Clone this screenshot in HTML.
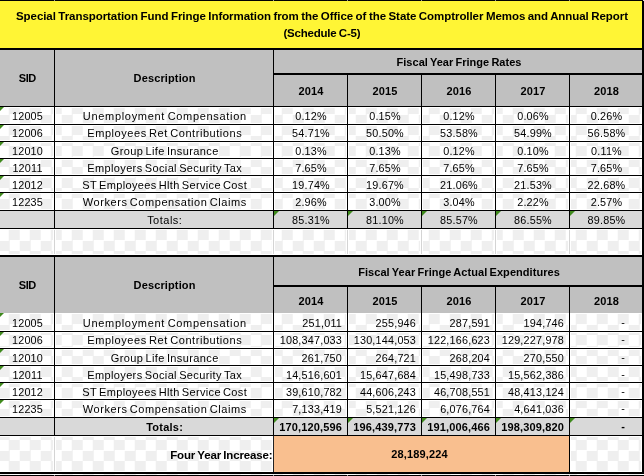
<!DOCTYPE html>
<html><head><meta charset="utf-8"><title>Special Transportation Fund Fringe Information</title>
<style>
html,body{margin:0;padding:0}
body{width:644px;height:476px;overflow:hidden;position:relative;
 background:repeating-conic-gradient(#efefef 0% 25%,#ffffff 0% 50%) -1.25px -1px/21px 21px;
 font-family:"Liberation Sans",sans-serif;color:#000}
.a{position:absolute}
.t{white-space:nowrap;text-align:center;overflow:visible;will-change:transform}
.r{text-align:right}
.ti{font-weight:bold;font-size:11.5px;word-spacing:-0.6px}
.b{font-weight:bold;font-size:11px;word-spacing:-0.8px}
.b2{font-weight:bold;font-size:11.5px;word-spacing:-0.8px}
.bn{font-weight:bold;font-size:11px;letter-spacing:0.15px}
.n{font-size:10.8px;letter-spacing:0.2px;color:#000}
.d{font-size:11px;color:#000;word-spacing:-1.2px}
.g{width:0;height:0;border-top:5px solid #3f8a1c;border-right:5px solid transparent}
</style></head>
<body>
<div class="a" style="left:0px;top:1px;width:642px;height:47px;background:#fff535;"></div>
<div class="a" style="left:0px;top:50px;width:642px;height:56px;background:#c0c0c0;"></div>
<div class="a" style="left:0px;top:211px;width:642px;height:17px;background:#d9d9d9;"></div>
<div class="a" style="left:0px;top:257px;width:642px;height:56px;background:#c0c0c0;"></div>
<div class="a" style="left:0px;top:418px;width:642px;height:17px;background:#d9d9d9;"></div>
<div class="a" style="left:274px;top:436px;width:295px;height:36px;background:#f9bf8f;"></div>
<div class="a" style="left:53px;top:229px;width:3px;height:26px;background:#fff;"></div>
<div class="a" style="left:54px;top:229px;width:1px;height:26px;background:#d4d4d4;"></div>
<div class="a" style="left:272px;top:229px;width:3px;height:26px;background:#fff;"></div>
<div class="a" style="left:273px;top:229px;width:1px;height:26px;background:#d4d4d4;"></div>
<div class="a" style="left:346px;top:229px;width:3px;height:26px;background:#fff;"></div>
<div class="a" style="left:347px;top:229px;width:1px;height:26px;background:#d4d4d4;"></div>
<div class="a" style="left:420px;top:229px;width:3px;height:26px;background:#fff;"></div>
<div class="a" style="left:421px;top:229px;width:1px;height:26px;background:#d4d4d4;"></div>
<div class="a" style="left:494px;top:229px;width:3px;height:26px;background:#fff;"></div>
<div class="a" style="left:495px;top:229px;width:1px;height:26px;background:#d4d4d4;"></div>
<div class="a" style="left:568px;top:229px;width:3px;height:26px;background:#fff;"></div>
<div class="a" style="left:569px;top:229px;width:1px;height:26px;background:#d4d4d4;"></div>
<div class="a" style="left:53px;top:436px;width:3px;height:36px;background:#fff;"></div>
<div class="a" style="left:54px;top:436px;width:1px;height:36px;background:#d4d4d4;"></div>
<div class="a" style="left:273px;top:436px;width:1px;height:36px;background:#222;"></div>
<div class="a" style="left:0px;top:107px;width:642px;height:1px;background:#fff;"></div>
<div class="a" style="left:0px;top:125px;width:642px;height:1px;background:#fff;"></div>
<div class="a" style="left:0px;top:123px;width:642px;height:1px;background:#fff;"></div>
<div class="a" style="left:0px;top:142px;width:642px;height:1px;background:#fff;"></div>
<div class="a" style="left:0px;top:140px;width:642px;height:1px;background:#fff;"></div>
<div class="a" style="left:0px;top:159px;width:642px;height:1px;background:#fff;"></div>
<div class="a" style="left:0px;top:157px;width:642px;height:1px;background:#fff;"></div>
<div class="a" style="left:0px;top:176px;width:642px;height:1px;background:#fff;"></div>
<div class="a" style="left:0px;top:174px;width:642px;height:1px;background:#fff;"></div>
<div class="a" style="left:0px;top:193px;width:642px;height:1px;background:#fff;"></div>
<div class="a" style="left:0px;top:191px;width:642px;height:1px;background:#fff;"></div>
<div class="a" style="left:0px;top:209px;width:642px;height:1px;background:#fff;"></div>
<div class="a" style="left:53px;top:107px;width:1px;height:103px;background:#fff;"></div>
<div class="a" style="left:55px;top:107px;width:1px;height:103px;background:#fff;"></div>
<div class="a" style="left:272px;top:107px;width:1px;height:103px;background:#fff;"></div>
<div class="a" style="left:274px;top:107px;width:1px;height:103px;background:#fff;"></div>
<div class="a" style="left:346px;top:107px;width:1px;height:103px;background:#fff;"></div>
<div class="a" style="left:348px;top:107px;width:1px;height:103px;background:#fff;"></div>
<div class="a" style="left:420px;top:107px;width:1px;height:103px;background:#fff;"></div>
<div class="a" style="left:422px;top:107px;width:1px;height:103px;background:#fff;"></div>
<div class="a" style="left:494px;top:107px;width:1px;height:103px;background:#fff;"></div>
<div class="a" style="left:496px;top:107px;width:1px;height:103px;background:#fff;"></div>
<div class="a" style="left:568px;top:107px;width:1px;height:103px;background:#fff;"></div>
<div class="a" style="left:570px;top:107px;width:1px;height:103px;background:#fff;"></div>
<div class="a" style="left:641px;top:107px;width:1px;height:103px;background:#fff;"></div>
<div class="a" style="left:0px;top:313px;width:642px;height:1px;background:#fff;"></div>
<div class="a" style="left:0px;top:332px;width:642px;height:1px;background:#fff;"></div>
<div class="a" style="left:0px;top:330px;width:642px;height:1px;background:#fff;"></div>
<div class="a" style="left:0px;top:349px;width:642px;height:1px;background:#fff;"></div>
<div class="a" style="left:0px;top:347px;width:642px;height:1px;background:#fff;"></div>
<div class="a" style="left:0px;top:366px;width:642px;height:1px;background:#fff;"></div>
<div class="a" style="left:0px;top:364px;width:642px;height:1px;background:#fff;"></div>
<div class="a" style="left:0px;top:383px;width:642px;height:1px;background:#fff;"></div>
<div class="a" style="left:0px;top:381px;width:642px;height:1px;background:#fff;"></div>
<div class="a" style="left:0px;top:400px;width:642px;height:1px;background:#fff;"></div>
<div class="a" style="left:0px;top:398px;width:642px;height:1px;background:#fff;"></div>
<div class="a" style="left:0px;top:416px;width:642px;height:1px;background:#fff;"></div>
<div class="a" style="left:53px;top:313px;width:1px;height:104px;background:#fff;"></div>
<div class="a" style="left:55px;top:313px;width:1px;height:104px;background:#fff;"></div>
<div class="a" style="left:272px;top:313px;width:1px;height:104px;background:#fff;"></div>
<div class="a" style="left:274px;top:313px;width:1px;height:104px;background:#fff;"></div>
<div class="a" style="left:346px;top:313px;width:1px;height:104px;background:#fff;"></div>
<div class="a" style="left:348px;top:313px;width:1px;height:104px;background:#fff;"></div>
<div class="a" style="left:420px;top:313px;width:1px;height:104px;background:#fff;"></div>
<div class="a" style="left:422px;top:313px;width:1px;height:104px;background:#fff;"></div>
<div class="a" style="left:494px;top:313px;width:1px;height:104px;background:#fff;"></div>
<div class="a" style="left:496px;top:313px;width:1px;height:104px;background:#fff;"></div>
<div class="a" style="left:568px;top:313px;width:1px;height:104px;background:#fff;"></div>
<div class="a" style="left:570px;top:313px;width:1px;height:104px;background:#fff;"></div>
<div class="a" style="left:641px;top:313px;width:1px;height:104px;background:#fff;"></div>
<div class="a" style="left:0px;top:229px;width:642px;height:1px;background:#fff;"></div>
<div class="a" style="left:0px;top:254px;width:642px;height:1px;background:#fff;"></div>
<div class="a" style="left:641px;top:229px;width:1px;height:26px;background:#fff;"></div>
<div class="a" style="left:0px;top:436px;width:273px;height:1px;background:#fff;"></div>
<div class="a" style="left:0px;top:471px;width:273px;height:1px;background:#fff;"></div>
<div class="a" style="left:570px;top:436px;width:72px;height:1px;background:#fff;"></div>
<div class="a" style="left:570px;top:471px;width:72px;height:1px;background:#fff;"></div>
<div class="a" style="left:272px;top:436px;width:1px;height:36px;background:#fff;"></div>
<div class="a" style="left:570px;top:436px;width:1px;height:36px;background:#fff;"></div>
<div class="a" style="left:641px;top:436px;width:1px;height:36px;background:#fff;"></div>
<div class="a" style="left:0px;top:0px;width:644px;height:1px;background:#000;"></div>
<div class="a" style="left:0px;top:48px;width:644px;height:2px;background:#000;"></div>
<div class="a" style="left:273px;top:73px;width:371px;height:2px;background:#000;"></div>
<div class="a" style="left:0px;top:106px;width:644px;height:1px;background:#000;"></div>
<div class="a" style="left:0px;top:124px;width:644px;height:1px;background:#000;"></div>
<div class="a" style="left:0px;top:141px;width:644px;height:1px;background:#000;"></div>
<div class="a" style="left:0px;top:158px;width:644px;height:1px;background:#000;"></div>
<div class="a" style="left:0px;top:175px;width:644px;height:1px;background:#000;"></div>
<div class="a" style="left:0px;top:192px;width:644px;height:1px;background:#000;"></div>
<div class="a" style="left:0px;top:210px;width:644px;height:1px;background:#000;"></div>
<div class="a" style="left:0px;top:228px;width:644px;height:1px;background:#000;"></div>
<div class="a" style="left:0px;top:255px;width:644px;height:2px;background:#000;"></div>
<div class="a" style="left:273px;top:285px;width:371px;height:2px;background:#000;"></div>
<div class="a" style="left:0px;top:331px;width:644px;height:1px;background:#000;"></div>
<div class="a" style="left:0px;top:348px;width:644px;height:1px;background:#000;"></div>
<div class="a" style="left:0px;top:365px;width:644px;height:1px;background:#000;"></div>
<div class="a" style="left:0px;top:382px;width:644px;height:1px;background:#000;"></div>
<div class="a" style="left:0px;top:399px;width:644px;height:1px;background:#000;"></div>
<div class="a" style="left:0px;top:417px;width:644px;height:1px;background:#000;"></div>
<div class="a" style="left:0px;top:435px;width:644px;height:1px;background:#000;"></div>
<div class="a" style="left:0px;top:472px;width:644px;height:2px;background:#000;"></div>
<div class="a" style="left:0px;top:475px;width:644px;height:1px;background:#000;"></div>
<div class="a" style="left:642px;top:0px;width:2px;height:474px;background:#000;"></div>
<div class="a" style="left:54px;top:50px;width:1px;height:179px;background:#000;"></div>
<div class="a" style="left:273px;top:50px;width:1px;height:179px;background:#000;"></div>
<div class="a" style="left:347px;top:75px;width:1px;height:154px;background:#000;"></div>
<div class="a" style="left:421px;top:75px;width:1px;height:154px;background:#000;"></div>
<div class="a" style="left:495px;top:75px;width:1px;height:154px;background:#000;"></div>
<div class="a" style="left:569px;top:75px;width:1px;height:154px;background:#000;"></div>
<div class="a" style="left:54px;top:257px;width:1px;height:179px;background:#000;"></div>
<div class="a" style="left:273px;top:257px;width:1px;height:179px;background:#000;"></div>
<div class="a" style="left:347px;top:287px;width:1px;height:149px;background:#000;"></div>
<div class="a" style="left:421px;top:287px;width:1px;height:149px;background:#000;"></div>
<div class="a" style="left:495px;top:287px;width:1px;height:149px;background:#000;"></div>
<div class="a" style="left:569px;top:287px;width:1px;height:187px;background:#000;"></div>
<div class="a" style="left:54px;top:0px;width:1px;height:1px;background:#9a9a9a;"></div>
<div class="a" style="left:54px;top:475px;width:1px;height:1px;background:#9a9a9a;"></div>
<div class="a" style="left:273px;top:0px;width:1px;height:1px;background:#9a9a9a;"></div>
<div class="a" style="left:273px;top:475px;width:1px;height:1px;background:#9a9a9a;"></div>
<div class="a" style="left:347px;top:0px;width:1px;height:1px;background:#9a9a9a;"></div>
<div class="a" style="left:347px;top:475px;width:1px;height:1px;background:#9a9a9a;"></div>
<div class="a" style="left:421px;top:0px;width:1px;height:1px;background:#9a9a9a;"></div>
<div class="a" style="left:421px;top:475px;width:1px;height:1px;background:#9a9a9a;"></div>
<div class="a" style="left:495px;top:0px;width:1px;height:1px;background:#9a9a9a;"></div>
<div class="a" style="left:495px;top:475px;width:1px;height:1px;background:#9a9a9a;"></div>
<div class="a" style="left:569px;top:0px;width:1px;height:1px;background:#9a9a9a;"></div>
<div class="a" style="left:569px;top:475px;width:1px;height:1px;background:#9a9a9a;"></div>
<div class="a" style="left:643px;top:0px;width:1px;height:1px;background:#ddd;"></div>
<div class="a t ti" style="left:0px;top:8px;width:644px;height:17px;line-height:17px;letter-spacing:-0.06px;text-indent:-0.06px;">Special Transportation Fund Fringe Information from the Office of the State Comptroller Memos and Annual Report</div>
<div class="a t ti" style="left:0px;top:25px;width:644px;height:17px;line-height:17px;letter-spacing:-0.21px;text-indent:-0.21px;">(Schedule C-5)</div>
<div class="a t b" style="left:0px;top:50px;width:55px;height:56px;line-height:56px;letter-spacing:-0.45px;text-indent:-0.45px;">SID</div>
<div class="a t b" style="left:55px;top:50px;width:219px;height:56px;line-height:56px;letter-spacing:0.13px;text-indent:0.13px;">Description</div>
<div class="a t b" style="left:274px;top:51px;width:370px;height:23px;line-height:23px;letter-spacing:0.01px;text-indent:0.01px;">Fiscal Year Fringe Rates</div>
<div class="a t b" style="left:274px;top:76px;width:74px;height:31px;line-height:31px;letter-spacing:0.13px;text-indent:0.13px;">2014</div>
<div class="a t b" style="left:348px;top:76px;width:74px;height:31px;line-height:31px;letter-spacing:0.13px;text-indent:0.13px;">2015</div>
<div class="a t b" style="left:422px;top:76px;width:74px;height:31px;line-height:31px;letter-spacing:0.13px;text-indent:0.13px;">2016</div>
<div class="a t b" style="left:496px;top:76px;width:74px;height:31px;line-height:31px;letter-spacing:0.13px;text-indent:0.13px;">2017</div>
<div class="a t b" style="left:570px;top:76px;width:73px;height:31px;line-height:31px;letter-spacing:0.13px;text-indent:0.13px;">2018</div>
<div class="a t b" style="left:0px;top:257px;width:55px;height:56px;line-height:56px;letter-spacing:-0.45px;text-indent:-0.45px;">SID</div>
<div class="a t b" style="left:55px;top:257px;width:219px;height:56px;line-height:56px;letter-spacing:0.13px;text-indent:0.13px;">Description</div>
<div class="a t b" style="left:274px;top:258px;width:370px;height:28px;line-height:28px;letter-spacing:0.05px;text-indent:0.05px;">Fiscal Year Fringe Actual Expenditures</div>
<div class="a t b" style="left:274px;top:288px;width:74px;height:26px;line-height:26px;letter-spacing:0.13px;text-indent:0.13px;">2014</div>
<div class="a t b" style="left:348px;top:288px;width:74px;height:26px;line-height:26px;letter-spacing:0.13px;text-indent:0.13px;">2015</div>
<div class="a t b" style="left:422px;top:288px;width:74px;height:26px;line-height:26px;letter-spacing:0.13px;text-indent:0.13px;">2016</div>
<div class="a t b" style="left:496px;top:288px;width:74px;height:26px;line-height:26px;letter-spacing:0.13px;text-indent:0.13px;">2017</div>
<div class="a t b" style="left:570px;top:288px;width:73px;height:26px;line-height:26px;letter-spacing:0.13px;text-indent:0.13px;">2018</div>
<div class="a t n" style="left:0px;top:108px;width:55px;height:16px;line-height:16px;">12005</div>
<div class="a g" style="left:-1px;top:107px"></div>
<div class="a t d" style="left:55px;top:108px;width:219px;height:16px;line-height:16px;letter-spacing:0.69px;text-indent:0.69px;">Unemployment Compensation</div>
<div class="a t n" style="left:274px;top:108px;width:74px;height:16px;line-height:16px;">0.12%</div>
<div class="a t n" style="left:348px;top:108px;width:74px;height:16px;line-height:16px;">0.15%</div>
<div class="a t n" style="left:422px;top:108px;width:74px;height:16px;line-height:16px;">0.12%</div>
<div class="a t n" style="left:496px;top:108px;width:74px;height:16px;line-height:16px;">0.06%</div>
<div class="a t n" style="left:570px;top:108px;width:73px;height:16px;line-height:16px;">0.26%</div>
<div class="a t n" style="left:0px;top:125px;width:55px;height:16px;line-height:16px;">12006</div>
<div class="a g" style="left:-1px;top:125px"></div>
<div class="a t d" style="left:55px;top:125px;width:219px;height:16px;line-height:16px;letter-spacing:0.55px;text-indent:0.55px;">Employees Ret Contributions</div>
<div class="a t n" style="left:274px;top:125px;width:74px;height:16px;line-height:16px;">54.71%</div>
<div class="a t n" style="left:348px;top:125px;width:74px;height:16px;line-height:16px;">50.50%</div>
<div class="a t n" style="left:422px;top:125px;width:74px;height:16px;line-height:16px;">53.58%</div>
<div class="a t n" style="left:496px;top:125px;width:74px;height:16px;line-height:16px;">54.99%</div>
<div class="a t n" style="left:570px;top:125px;width:73px;height:16px;line-height:16px;">56.58%</div>
<div class="a t n" style="left:0px;top:143px;width:55px;height:16px;line-height:16px;">12010</div>
<div class="a g" style="left:-1px;top:142px"></div>
<div class="a t d" style="left:55px;top:143px;width:219px;height:16px;line-height:16px;letter-spacing:0.38px;text-indent:0.38px;">Group Life Insurance</div>
<div class="a t n" style="left:274px;top:143px;width:74px;height:16px;line-height:16px;">0.13%</div>
<div class="a t n" style="left:348px;top:143px;width:74px;height:16px;line-height:16px;">0.13%</div>
<div class="a t n" style="left:422px;top:143px;width:74px;height:16px;line-height:16px;">0.12%</div>
<div class="a t n" style="left:496px;top:143px;width:74px;height:16px;line-height:16px;">0.10%</div>
<div class="a t n" style="left:570px;top:143px;width:73px;height:16px;line-height:16px;">0.11%</div>
<div class="a t n" style="left:0px;top:160px;width:55px;height:16px;line-height:16px;">12011</div>
<div class="a g" style="left:-1px;top:159px"></div>
<div class="a t d" style="left:55px;top:160px;width:219px;height:16px;line-height:16px;letter-spacing:0.37px;text-indent:0.37px;">Employers Social Security Tax</div>
<div class="a t n" style="left:274px;top:160px;width:74px;height:16px;line-height:16px;">7.65%</div>
<div class="a t n" style="left:348px;top:160px;width:74px;height:16px;line-height:16px;">7.65%</div>
<div class="a t n" style="left:422px;top:160px;width:74px;height:16px;line-height:16px;">7.65%</div>
<div class="a t n" style="left:496px;top:160px;width:74px;height:16px;line-height:16px;">7.65%</div>
<div class="a t n" style="left:570px;top:160px;width:73px;height:16px;line-height:16px;">7.65%</div>
<div class="a t n" style="left:0px;top:177px;width:55px;height:16px;line-height:16px;">12012</div>
<div class="a g" style="left:-1px;top:176px"></div>
<div class="a t d" style="left:55px;top:177px;width:219px;height:16px;line-height:16px;letter-spacing:0.34px;text-indent:0.34px;">ST Employees Hlth Service Cost</div>
<div class="a t n" style="left:274px;top:177px;width:74px;height:16px;line-height:16px;">19.74%</div>
<div class="a t n" style="left:348px;top:177px;width:74px;height:16px;line-height:16px;">19.67%</div>
<div class="a t n" style="left:422px;top:177px;width:74px;height:16px;line-height:16px;">21.06%</div>
<div class="a t n" style="left:496px;top:177px;width:74px;height:16px;line-height:16px;">21.53%</div>
<div class="a t n" style="left:570px;top:177px;width:73px;height:16px;line-height:16px;">22.68%</div>
<div class="a t n" style="left:0px;top:194px;width:55px;height:16px;line-height:16px;">12235</div>
<div class="a g" style="left:-1px;top:193px"></div>
<div class="a t d" style="left:55px;top:194px;width:219px;height:16px;line-height:16px;letter-spacing:0.55px;text-indent:0.55px;">Workers Compensation Claims</div>
<div class="a t n" style="left:274px;top:194px;width:74px;height:16px;line-height:16px;">2.96%</div>
<div class="a t n" style="left:348px;top:194px;width:74px;height:16px;line-height:16px;">3.00%</div>
<div class="a t n" style="left:422px;top:194px;width:74px;height:16px;line-height:16px;">3.04%</div>
<div class="a t n" style="left:496px;top:194px;width:74px;height:16px;line-height:16px;">2.22%</div>
<div class="a t n" style="left:570px;top:194px;width:73px;height:16px;line-height:16px;">2.57%</div>
<div class="a t d" style="left:55px;top:212px;width:219px;height:16px;line-height:16px;letter-spacing:0.49px;text-indent:0.49px;">Totals:</div>
<div class="a t n" style="left:274px;top:212px;width:74px;height:16px;line-height:16px;">85.31%</div>
<div class="a g" style="left:274px;top:211px"></div>
<div class="a t n" style="left:348px;top:212px;width:74px;height:16px;line-height:16px;">81.10%</div>
<div class="a g" style="left:348px;top:211px"></div>
<div class="a t n" style="left:422px;top:212px;width:74px;height:16px;line-height:16px;">85.57%</div>
<div class="a g" style="left:422px;top:211px"></div>
<div class="a t n" style="left:496px;top:212px;width:74px;height:16px;line-height:16px;">86.55%</div>
<div class="a g" style="left:496px;top:211px"></div>
<div class="a t n" style="left:570px;top:212px;width:73px;height:16px;line-height:16px;">89.85%</div>
<div class="a g" style="left:570px;top:211px"></div>
<div class="a t n" style="left:0px;top:315px;width:55px;height:16px;line-height:16px;">12005</div>
<div class="a g" style="left:-1px;top:313px"></div>
<div class="a t d" style="left:55px;top:315px;width:219px;height:16px;line-height:16px;letter-spacing:0.69px;text-indent:0.69px;">Unemployment Compensation</div>
<div class="a t n r" style="left:274px;top:315px;width:68px;height:16px;line-height:16px;">251,011</div>
<div class="a t n r" style="left:348px;top:315px;width:68px;height:16px;line-height:16px;">255,946</div>
<div class="a t n r" style="left:422px;top:315px;width:68px;height:16px;line-height:16px;">287,591</div>
<div class="a t n r" style="left:496px;top:315px;width:68px;height:16px;line-height:16px;">194,746</div>
<div class="a t n r" style="left:570px;top:314px;width:55px;height:16px;line-height:16px;">-</div>
<div class="a t n" style="left:0px;top:332px;width:55px;height:16px;line-height:16px;">12006</div>
<div class="a g" style="left:-1px;top:332px"></div>
<div class="a t d" style="left:55px;top:332px;width:219px;height:16px;line-height:16px;letter-spacing:0.55px;text-indent:0.55px;">Employees Ret Contributions</div>
<div class="a t n r" style="left:274px;top:332px;width:68px;height:16px;line-height:16px;">108,347,033</div>
<div class="a t n r" style="left:348px;top:332px;width:68px;height:16px;line-height:16px;">130,144,053</div>
<div class="a t n r" style="left:422px;top:332px;width:68px;height:16px;line-height:16px;">122,166,623</div>
<div class="a t n r" style="left:496px;top:332px;width:68px;height:16px;line-height:16px;">129,227,978</div>
<div class="a t n r" style="left:570px;top:331px;width:55px;height:16px;line-height:16px;">-</div>
<div class="a t n" style="left:0px;top:350px;width:55px;height:16px;line-height:16px;">12010</div>
<div class="a g" style="left:-1px;top:349px"></div>
<div class="a t d" style="left:55px;top:350px;width:219px;height:16px;line-height:16px;letter-spacing:0.38px;text-indent:0.38px;">Group Life Insurance</div>
<div class="a t n r" style="left:274px;top:350px;width:68px;height:16px;line-height:16px;">261,750</div>
<div class="a t n r" style="left:348px;top:350px;width:68px;height:16px;line-height:16px;">264,721</div>
<div class="a t n r" style="left:422px;top:350px;width:68px;height:16px;line-height:16px;">268,204</div>
<div class="a t n r" style="left:496px;top:350px;width:68px;height:16px;line-height:16px;">270,550</div>
<div class="a t n r" style="left:570px;top:349px;width:55px;height:16px;line-height:16px;">-</div>
<div class="a t n" style="left:0px;top:367px;width:55px;height:16px;line-height:16px;">12011</div>
<div class="a g" style="left:-1px;top:366px"></div>
<div class="a t d" style="left:55px;top:367px;width:219px;height:16px;line-height:16px;letter-spacing:0.37px;text-indent:0.37px;">Employers Social Security Tax</div>
<div class="a t n r" style="left:274px;top:367px;width:68px;height:16px;line-height:16px;">14,516,601</div>
<div class="a t n r" style="left:348px;top:367px;width:68px;height:16px;line-height:16px;">15,647,684</div>
<div class="a t n r" style="left:422px;top:367px;width:68px;height:16px;line-height:16px;">15,498,733</div>
<div class="a t n r" style="left:496px;top:367px;width:68px;height:16px;line-height:16px;">15,562,386</div>
<div class="a t n r" style="left:570px;top:366px;width:55px;height:16px;line-height:16px;">-</div>
<div class="a t n" style="left:0px;top:384px;width:55px;height:16px;line-height:16px;">12012</div>
<div class="a g" style="left:-1px;top:383px"></div>
<div class="a t d" style="left:55px;top:384px;width:219px;height:16px;line-height:16px;letter-spacing:0.34px;text-indent:0.34px;">ST Employees Hlth Service Cost</div>
<div class="a t n r" style="left:274px;top:384px;width:68px;height:16px;line-height:16px;">39,610,782</div>
<div class="a t n r" style="left:348px;top:384px;width:68px;height:16px;line-height:16px;">44,606,243</div>
<div class="a t n r" style="left:422px;top:384px;width:68px;height:16px;line-height:16px;">46,708,551</div>
<div class="a t n r" style="left:496px;top:384px;width:68px;height:16px;line-height:16px;">48,413,124</div>
<div class="a t n r" style="left:570px;top:383px;width:55px;height:16px;line-height:16px;">-</div>
<div class="a t n" style="left:0px;top:401px;width:55px;height:16px;line-height:16px;">12235</div>
<div class="a g" style="left:-1px;top:400px"></div>
<div class="a t d" style="left:55px;top:401px;width:219px;height:16px;line-height:16px;letter-spacing:0.55px;text-indent:0.55px;">Workers Compensation Claims</div>
<div class="a t n r" style="left:274px;top:401px;width:68px;height:16px;line-height:16px;">7,133,419</div>
<div class="a t n r" style="left:348px;top:401px;width:68px;height:16px;line-height:16px;">5,521,126</div>
<div class="a t n r" style="left:422px;top:401px;width:68px;height:16px;line-height:16px;">6,076,764</div>
<div class="a t n r" style="left:496px;top:401px;width:68px;height:16px;line-height:16px;">4,641,036</div>
<div class="a t n r" style="left:570px;top:400px;width:55px;height:16px;line-height:16px;">-</div>
<div class="a t b" style="left:55px;top:419px;width:219px;height:16px;line-height:16px;letter-spacing:0.25px;text-indent:0.25px;">Totals:</div>
<div class="a t bn r" style="left:274px;top:419px;width:68px;height:16px;line-height:16px;">170,120,596</div>
<div class="a g" style="left:274px;top:418px"></div>
<div class="a t bn r" style="left:348px;top:419px;width:68px;height:16px;line-height:16px;">196,439,773</div>
<div class="a g" style="left:348px;top:418px"></div>
<div class="a t bn r" style="left:422px;top:419px;width:68px;height:16px;line-height:16px;">191,006,466</div>
<div class="a g" style="left:422px;top:418px"></div>
<div class="a t bn r" style="left:496px;top:419px;width:68px;height:16px;line-height:16px;">198,309,820</div>
<div class="a g" style="left:496px;top:418px"></div>
<div class="a t bn r" style="left:570px;top:418px;width:55px;height:16px;line-height:16px;">-</div>
<div class="a g" style="left:570px;top:418px"></div>
<div class="a t b2 r" style="left:55px;top:437px;width:217.5px;height:36px;line-height:36px;letter-spacing:-0.14px;">Four Year Increase:</div>
<div class="a t bn" style="left:272px;top:436px;width:295px;height:36px;line-height:36px;">28,189,224</div>
</body></html>
